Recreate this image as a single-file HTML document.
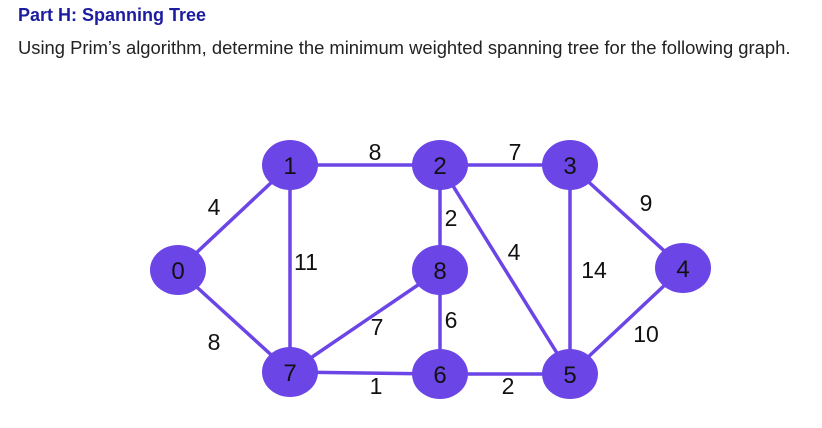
<!DOCTYPE html>
<html><head><meta charset="utf-8"><style>
body{margin:0;background:#fff;width:822px;height:428px;overflow:hidden;font-family:"Liberation Sans",Arial,sans-serif;}
.t{position:absolute;left:18px;top:5px;font-size:18px;font-weight:bold;color:#1c1ca0;}
.s{position:absolute;left:18px;top:37px;font-size:18.4px;color:#222;white-space:nowrap;}
svg{position:absolute;left:0;top:0}
</style></head><body>
<div class="t">Part H: Spanning Tree</div>
<div class="s">Using Prim’s algorithm, determine the minimum weighted spanning tree for the following graph.</div>
<svg width="822" height="428" font-family="Liberation Sans, sans-serif">
<g stroke="#6b45e6" stroke-width="3.5">
<line x1="178" y1="270" x2="290" y2="165"/>
<line x1="178" y1="270" x2="290" y2="372"/>
<line x1="290" y1="165" x2="440" y2="165"/>
<line x1="290" y1="165" x2="290" y2="372"/>
<line x1="440" y1="165" x2="570" y2="165"/>
<line x1="440" y1="165" x2="440" y2="374"/>
<line x1="440" y1="165" x2="570" y2="374"/>
<line x1="570" y1="165" x2="683" y2="268"/>
<line x1="570" y1="165" x2="570" y2="374"/>
<line x1="683" y1="268" x2="570" y2="374"/>
<line x1="440" y1="270" x2="290" y2="372"/>
<line x1="290" y1="372" x2="440" y2="374"/>
<line x1="440" y1="374" x2="570" y2="374"/>
</g>
<g fill="#6b45e6">
<ellipse cx="178" cy="270" rx="28" ry="25"/>
<ellipse cx="290" cy="165" rx="28" ry="25"/>
<ellipse cx="440" cy="165" rx="28" ry="25"/>
<ellipse cx="570" cy="165" rx="28" ry="25"/>
<ellipse cx="683" cy="268" rx="28" ry="25"/>
<ellipse cx="440" cy="270" rx="28" ry="25"/>
<ellipse cx="290" cy="372" rx="28" ry="25"/>
<ellipse cx="440" cy="374" rx="28" ry="25"/>
<ellipse cx="570" cy="374" rx="28" ry="25"/>
</g>
<g font-size="24" fill="#111" text-anchor="middle">
<text x="178" y="279">0</text><text x="290" y="174">1</text><text x="440" y="174">2</text>
<text x="570" y="174">3</text><text x="683" y="277">4</text><text x="440" y="279">8</text>
<text x="290" y="381">7</text><text x="440" y="383">6</text><text x="570" y="383">5</text>
</g>
<g font-size="23" fill="#111" text-anchor="middle">
<text x="214" y="215">4</text><text x="214" y="350">8</text><text x="375" y="160">8</text>
<text x="306" y="270">11</text><text x="515" y="160">7</text><text x="451" y="226">2</text>
<text x="514" y="260">4</text><text x="377" y="335">7</text><text x="451" y="328">6</text>
<text x="376" y="394">1</text><text x="508" y="394">2</text><text x="594" y="278">14</text>
<text x="646" y="211">9</text><text x="646" y="342">10</text>
</g>
</svg>
</body></html>
